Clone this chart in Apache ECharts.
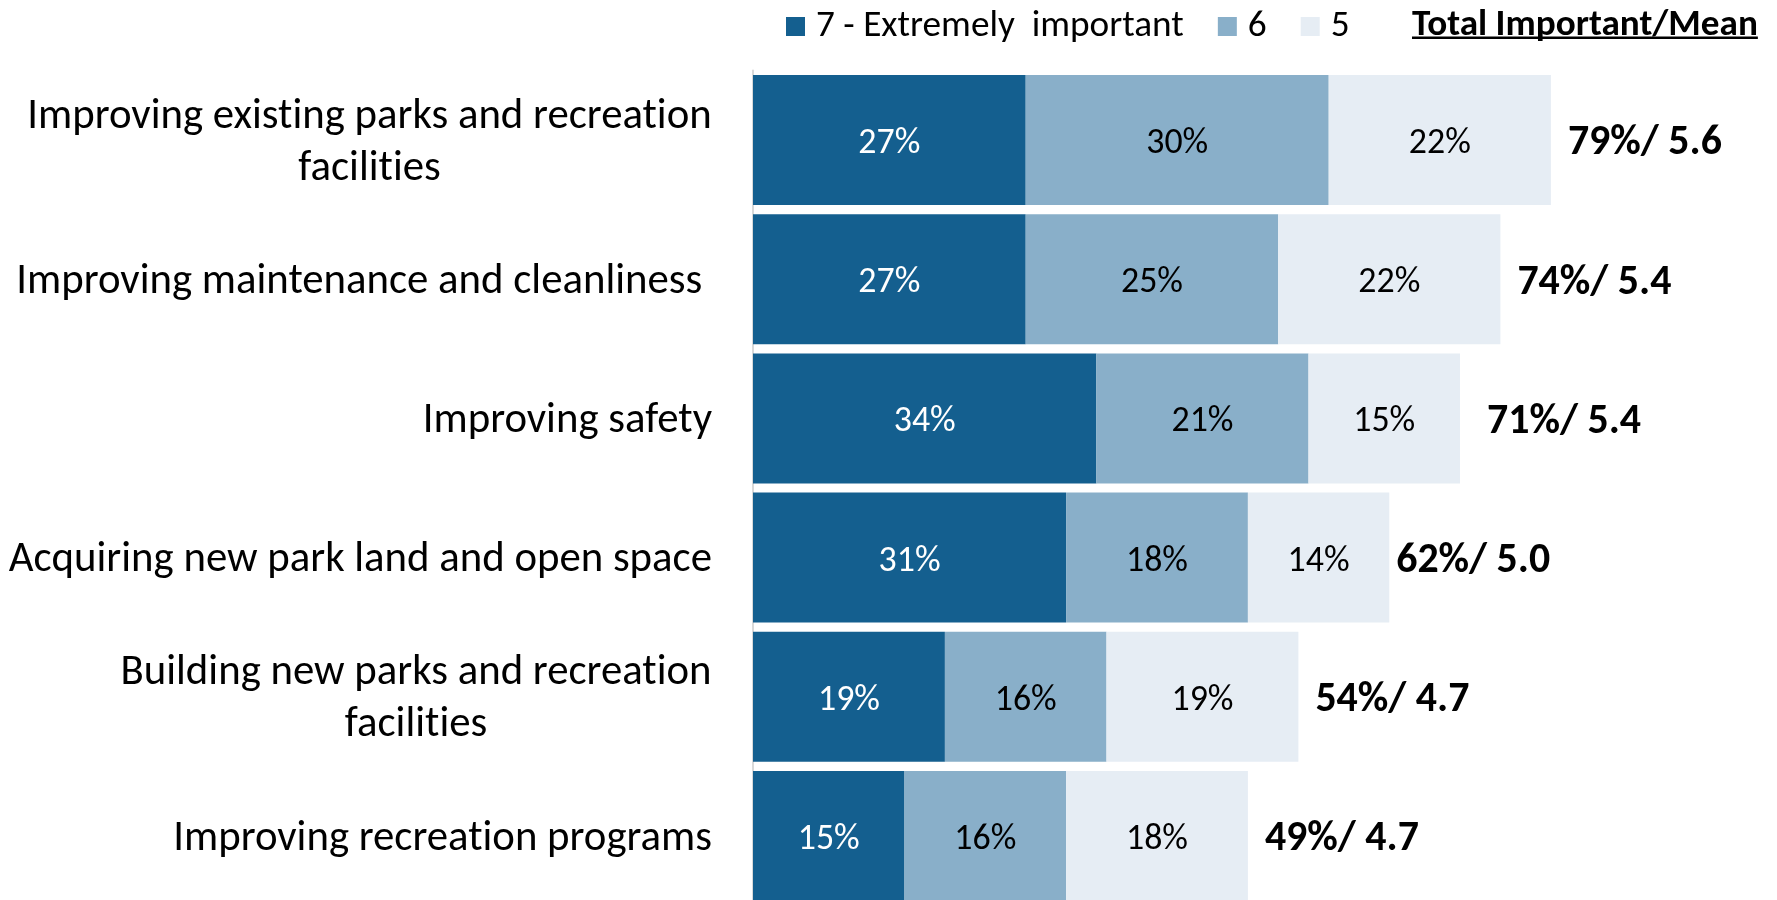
<!DOCTYPE html>
<html><head><meta charset="utf-8">
<script src="https://cdn.jsdelivr.net/npm/echarts@6/dist/echarts.min.js"></script>
<style>html,body{margin:0;padding:0;background:#fff}#c{width:1777px;height:900px}</style>
</head><body><div id="c"></div>
<script>
const categories = [
  "Improving existing parks and recreation\nfacilities",
  "Improving maintenance and cleanliness ",
  "Improving safety",
  "Acquiring new park land and open space",
  "Building new parks and recreation\nfacilities",
  "Improving recreation programs"
];
const seriesNames = ["7 - Extremely  important", "6", "5"];
const extremely = [27, 27, 34, 31, 19, 15];
const six = [30, 25, 21, 18, 16, 16];
const five = [22, 22, 15, 14, 19, 18];
const totalImportant = [79, 74, 71, 62, 54, 49];
const meanScore = ["5.6", "5.4", "5.4", "5.0", "4.7", "4.7"];
const headerText = "Total Important/Mean";

const FONT = "Carlito, Calibri, Lato, sans-serif";
const mctx = document.createElement('canvas').getContext('2d');
function measure(text, size, weight) {
  mctx.font = (weight || 'normal') + ' ' + size + 'px ' + FONT;
  return mctx.measureText(text).width;
}
function fit(text, target, weight) { return 100 * target / measure(text, 100, weight); }

const catSize = fit("Improving existing parks and recreation", 684);
const insideSize = fit("27%", 62);
const totalSize = fit("79%/ 5.6", 154, 'bold');
const legendSize = fit("7 - Extremely  important", 368);
const headerSize = fit(headerText, 346, 'bold');
const headerW = measure(headerText, headerSize, 'bold');

const colors = ["#145f8f", "#89afc9", "#e6edf4"];

const rich = {};
categories.forEach((c, i) => {
  const lines = c.split('\n');
  if (lines.length > 1) {
    const w = Math.max(...lines.map(l => measure(l, catSize)));
    rich['r' + i] = { width: Math.ceil(w) + 1, align: 'center', fontSize: catSize, lineHeight: 52, fontFamily: FONT, color: '#000' };
  }
});

const chart = echarts.init(document.getElementById('c'), null, { renderer: 'canvas' });

function stackSeries(name, data, color, labelColor) {
  return {
    name: name, type: 'bar', stack: 'imp', data: data,
    barWidth: 130, barGap: '-100%',
    itemStyle: { color: color },
    label: { show: true, position: 'inside', offset: [0, 4], color: labelColor, fontSize: insideSize, fontFamily: FONT, formatter: p => p.value + '%' },
    emphasis: { disabled: true },
    animation: false
  };
}

const option = {
  animation: false,
  backgroundColor: '#fff',
  grid: { left: 753, width: 1010, top: 70.4, height: 835.2, containLabel: false, outerBoundsMode: 'none' },
  legend: {
    data: seriesNames,
    left: 781, top: 3,
    icon: 'rect', itemWidth: 19, itemHeight: 19, itemGap: 34,
    selectedMode: false,
    textStyle: { fontSize: legendSize, fontFamily: FONT, color: '#000', padding: [0, 0, 0, 6] }
  },
  xAxis: { type: 'value', min: 0, max: 100, show: false },
  yAxis: {
    type: 'category', data: categories, inverse: true,
    axisLine: { show: true, lineStyle: { color: '#d9d9d9', width: 2 } },
    axisTick: { show: false },
    splitLine: { show: false },
    axisLabel: {
      margin: 41, fontSize: catSize, fontFamily: FONT, color: '#000', lineHeight: 52,
      padding: [6, 0, 0, 0],
      rich: rich,
      formatter: (v, i) => {
        const lines = v.split('\n');
        if (lines.length > 1) return lines.map(l => '{r' + i + '|' + l + '}').join('\n');
        return v;
      }
    }
  },
  graphic: [{
    type: 'group', left: 1412, top: 7,
    children: [
      { type: 'text', x: 0, y: 0, style: { text: headerText, font: 'bold ' + headerSize + 'px ' + FONT, fill: '#000', textVerticalAlign: 'top' } },
      { type: 'rect', shape: { x: 0, y: 29.5, width: headerW, height: 2.5 }, style: { fill: '#000' } }
    ]
  }],
  series: [
    stackSeries(seriesNames[0], extremely, colors[0], '#fff'),
    stackSeries(seriesNames[1], six, colors[1], '#000'),
    stackSeries(seriesNames[2], five, colors[2], '#000'),
    {
      name: 'total', type: 'bar', data: totalImportant,
      barWidth: 130, barGap: '-100%', z: 1,
      itemStyle: { color: 'rgba(0,0,0,0)' },
      label: {
        show: true, position: 'right', distance: 17, offset: [0, 4], color: '#000',
        fontSize: totalSize, fontWeight: 'bold', fontFamily: FONT,
        formatter: p => totalImportant[p.dataIndex] + '%/ ' + meanScore[p.dataIndex]
      },
      emphasis: { disabled: true },
      silent: true
    }
  ]
};
chart.setOption(option);

// turn off font ligatures (e.g. "ti") to look like the original typeface
try {
  const layers = chart.getZr().painter.getLayers();
  Object.keys(layers).forEach(k => { const c = layers[k].ctx; if (c && 'textRendering' in c) c.textRendering = 'optimizeSpeed'; });
  chart.setOption(option, true);
} catch (e) {}
</script></body></html>
